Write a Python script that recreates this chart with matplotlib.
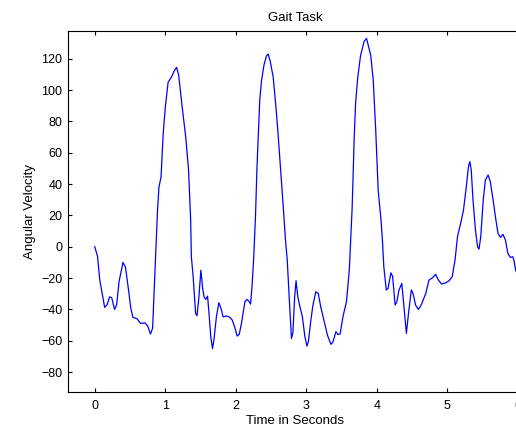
import matplotlib
matplotlib.use("Agg")
import matplotlib.pyplot as plt

# Gait task angular velocity
time_s = [0.00, 0.04, 0.07, 0.14, 0.175, 0.21, 0.24, 0.28, 0.31, 0.345, 0.40, 0.435,
          0.48, 0.51, 0.54, 0.60, 0.65, 0.71, 0.75, 0.79, 0.82, 0.84, 0.865, 0.89,
          0.91, 0.94, 0.97, 1.00, 1.04, 1.09, 1.12, 1.16, 1.19, 1.24, 1.29, 1.33,
          1.36, 1.37, 1.395, 1.43, 1.45, 1.475, 1.505, 1.53, 1.55, 1.575, 1.60, 1.62,
          1.645, 1.67, 1.69, 1.725, 1.76, 1.79, 1.82, 1.87, 1.915, 1.95, 1.99, 2.02,
          2.05, 2.08, 2.13, 2.16, 2.19, 2.21, 2.23, 2.255, 2.28, 2.30, 2.32, 2.34,
          2.365, 2.40, 2.435, 2.46, 2.49, 2.53, 2.57, 2.60, 2.63, 2.67, 2.705, 2.73,
          2.755, 2.79, 2.81, 2.835, 2.855, 2.88, 2.91, 2.945, 2.98, 3.01, 3.03, 3.065,
          3.095, 3.135, 3.17, 3.205, 3.255, 3.30, 3.35, 3.38, 3.42, 3.45, 3.48, 3.52,
          3.57, 3.61, 3.63, 3.65, 3.665, 3.68, 3.70, 3.73, 3.77, 3.82, 3.855, 3.915,
          3.95, 3.985, 4.02, 4.06, 4.08, 4.10, 4.135, 4.16, 4.20, 4.225, 4.26, 4.285,
          4.315, 4.355, 4.39, 4.42, 4.45, 4.49, 4.515, 4.55, 4.59, 4.63, 4.695, 4.74,
          4.79, 4.835, 4.875, 4.92, 4.98, 5.025, 5.07, 5.11, 5.145, 5.19, 5.23, 5.27,
          5.30, 5.32, 5.34, 5.365, 5.40, 5.43, 5.45, 5.475, 5.51, 5.54, 5.58, 5.61,
          5.65, 5.69, 5.72, 5.755, 5.79, 5.825, 5.86, 5.895, 5.93, 5.95, 5.97, 6.00]
ang_vel = [0.0, -6.4, -21, -38.7, -37, -32, -32.5, -40, -37, -22, -10, -13,
           -28, -39, -45, -46, -49, -48.5, -50.6, -55.7, -52, -30, -2, 23.4,
           38, 44.7, 72, 89, 105, 108.5, 111.7, 114.5, 109.6, 89, 70, 49,
           17, -6.4, -19, -42.5, -44, -33, -15, -26.5, -32, -33.6, -31.5, -42.5,
           -57.4, -65, -59.5, -44.7, -35.7, -39.3, -44.7, -44.2, -45, -46.8, -52, -57,
           -55.7, -49, -35, -33.6, -35, -36.6, -25.5, -6.4, 20, 50, 72, 93.6,
           106, 116, 121.7, 123, 118, 108.5, 89, 72, 53, 27.7, 4.3, -8.5,
           -30, -58.5, -55, -32, -21.7, -32, -38.3, -44.7, -57.4, -63.4, -60.6, -46.8,
           -37.2, -28.7, -29.8, -38.3, -47.9, -56.4, -62.3, -60.6, -54.2, -56, -55.7, -44.7,
           -35, -15, 4, 24, 48, 70, 92, 108, 122, 131, 133, 122,
           106, 74.5, 36, 17, 4.3, -12.8, -27.6, -26.6, -16.6, -19, -37.2, -35,
           -27.6, -23.4, -40.4, -55.3, -42.5, -27.6, -29.8, -37.2, -40, -37.2, -29.8, -21.3,
           -19.8, -17.6, -21.3, -23.8, -23, -21.7, -19.1, -8.5, 6.4, 15, 23.4, 38.3,
           51, 54.3, 49, 29.8, 10.6, 0, -1.5, 6.4, 29.8, 42.6, 45.8, 41.5,
           29.8, 17, 8.5, 6, 7.9, 4.3, -4.3, -6.8, -6.4, -9.6, -15, -18]

x_ticks = [0, 1, 2, 3, 4, 5, 6]
y_ticks = [-80, -60, -40, -20, 0, 20, 40, 60, 80, 100, 120]

plt.rcParams["font.family"] = ["Liberation Sans", "DejaVu Sans"]

fig = plt.figure(figsize=(5.16, 4.28), dpi=100)
ax = fig.add_axes([68 / 516, 36 / 428, 454 / 516, 361 / 428])

ax.plot(time_s, ang_vel, color="#0000ff", linewidth=0.9)

ax.set_xlim(-0.38, 6.06)
ax.set_ylim(-92.7, 137.7)
ax.set_xticks(x_ticks)
ax.set_yticks(y_ticks)
ax.tick_params(direction="in", length=3, width=0.8, labelsize=9, pad=4,
               top=True, right=True)
ax.tick_params(axis="x", pad=6)
for sp in ax.spines.values():
    sp.set_linewidth(0.8)

ax.set_title("Gait Task", fontsize=9.5, pad=7)
ax.set_xlabel("Time in Seconds", fontsize=9.5, labelpad=2)
ax.set_ylabel("Angular Velocity", fontsize=9.5, labelpad=4)

fig.savefig("out.png", dpi=100)
